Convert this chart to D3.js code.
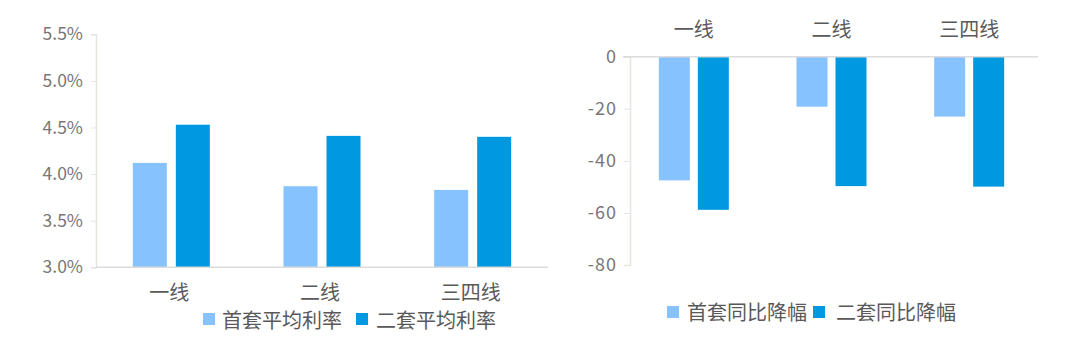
<!DOCTYPE html>
<html><head><meta charset="utf-8">
<script src="https://cdn.jsdelivr.net/npm/d3@7"></script>
<style>
html,body{margin:0;padding:0;background:#fff;}
svg text{font-family:"Noto Sans CJK SC","Noto Sans",sans-serif;fill:#666;}
</style></head>
<body>
<svg id="c" width="1080" height="356"></svg>
<script>
const categories = ["一线", "二线", "三四线"];
const leftSeriesNames = ["首套平均利率", "二套平均利率"];
const firstRate = [4.12, 3.87, 3.83];
const secondRate = [4.53, 4.41, 4.40];
const leftTicks = [3.0, 3.5, 4.0, 4.5, 5.0, 5.5];
const rightSeriesNames = ["首套同比降幅", "二套同比降幅"];
const firstDrop = [-47.5, -19.2, -23.0];
const secondDrop = [-58.8, -49.7, -49.9];
const rightTicks = [0, -20, -40, -60, -80];
const colors = ["#86C2FD", "#0098E1"];
const axisColor = "#e6e6e0";

const svg = d3.select("#c");

// ---------- Left chart ----------
(function(){
  const x0 = 96, x1 = 548, yTop = 34.3, yBot = 267.3;
  const x = d3.scaleBand().domain(categories).range([x0, x1]);
  const y = d3.scaleLinear().domain([3.0, 5.5]).range([yBot, yTop]);
  const g = svg.append("g");
  const barW = 34, gap = 9;
  const series = [firstRate, secondRate];
  series.forEach((vals, si) => {
    g.selectAll(null).data(categories).enter().append("rect")
      .attr("x", (d) => x(d) + x.bandwidth()/2 + (si === 0 ? -gap/2 - barW : gap/2))
      .attr("width", barW)
      .attr("y", (d, i) => y(vals[i]))
      .attr("height", (d, i) => y(3.0) - y(vals[i]))
      .attr("fill", colors[si]);
  });
  const ya = d3.axisLeft(y).tickValues(leftTicks).tickFormat(d => d.toFixed(1) + "%").tickSize(5).tickPadding(8);
  const yg = g.append("g").attr("transform", `translate(${x0},0)`).call(ya);
  yg.select(".domain").attr("stroke", axisColor).attr("stroke-width", 1.5);
  yg.selectAll(".tick line").attr("stroke", axisColor);
  yg.selectAll(".tick text").attr("font-size", 17.5).style("fill", "#777");
  g.append("line").attr("x1", x0).attr("x2", x1).attr("y1", yBot).attr("y2", yBot)
    .attr("stroke", "#dcdcdc").attr("stroke-width", 1.5);
  g.selectAll(null).data(categories).enter().append("text")
    .attr("x", d => x(d) + x.bandwidth()/2 - 2)
    .attr("y", 300)
    .attr("text-anchor", "middle")
    .attr("font-size", 20)
    .style("fill", "#595959")
    .text(d => d);
  const lg = [{x: 203, tx: 222}, {x: 356, tx: 376}];
  leftSeriesNames.forEach((n, i) => {
    g.append("rect").attr("x", lg[i].x).attr("y", 313).attr("width", 12).attr("height", 12).attr("fill", colors[i]);
    g.append("text").attr("x", lg[i].tx).attr("y", 328).attr("font-size", 20).style("fill", "#595959").text(n);
  });
})();

// ---------- Right chart ----------
(function(){
  const x0 = 625, x1 = 1038, yTop = 56.7, yBot = 265;
  const x = d3.scaleBand().domain(categories).range([x0, x1]);
  const y = d3.scaleLinear().domain([-80, 0]).range([yBot, yTop]);
  const g = svg.append("g");
  const barW = 31, gap = 8;
  const series = [firstDrop, secondDrop];
  series.forEach((vals, si) => {
    g.selectAll(null).data(categories).enter().append("rect")
      .attr("x", (d) => x(d) + x.bandwidth()/2 + (si === 0 ? -gap/2 - barW : gap/2))
      .attr("width", barW)
      .attr("y", y(0))
      .attr("height", (d, i) => y(vals[i]) - y(0))
      .attr("fill", colors[si]);
  });
  const ya = d3.axisLeft(y).tickValues(rightTicks).tickFormat(d => d === 0 ? "0" : "-" + Math.abs(d)).tickSize(6).tickPadding(7);
  const yg = g.append("g").attr("transform", `translate(${x0 + 5},0)`).call(ya);
  yg.select(".domain").attr("stroke", axisColor).attr("stroke-width", 1.5);
  yg.selectAll(".tick line").attr("stroke", axisColor);
  yg.selectAll(".tick text").attr("font-size", 18).style("fill", "#777").attr("letter-spacing", 1);
  g.append("line").attr("x1", x0 - 2).attr("x2", x1).attr("y1", y(0)).attr("y2", y(0))
    .attr("stroke", "#dcdcdc").attr("stroke-width", 1.5);
  g.selectAll(null).data(categories).enter().append("text")
    .attr("x", d => x(d) + x.bandwidth()/2)
    .attr("y", 37)
    .attr("text-anchor", "middle")
    .attr("font-size", 20)
    .style("fill", "#595959")
    .text(d => d);
  const lg = [{x: 667, tx: 687}, {x: 813, tx: 836}];
  rightSeriesNames.forEach((n, i) => {
    g.append("rect").attr("x", lg[i].x).attr("y", 306).attr("width", 12).attr("height", 12).attr("fill", colors[i]);
    g.append("text").attr("x", lg[i].tx).attr("y", 320).attr("font-size", 20).style("fill", "#595959").text(n);
  });
})();
</script>
</body></html>
